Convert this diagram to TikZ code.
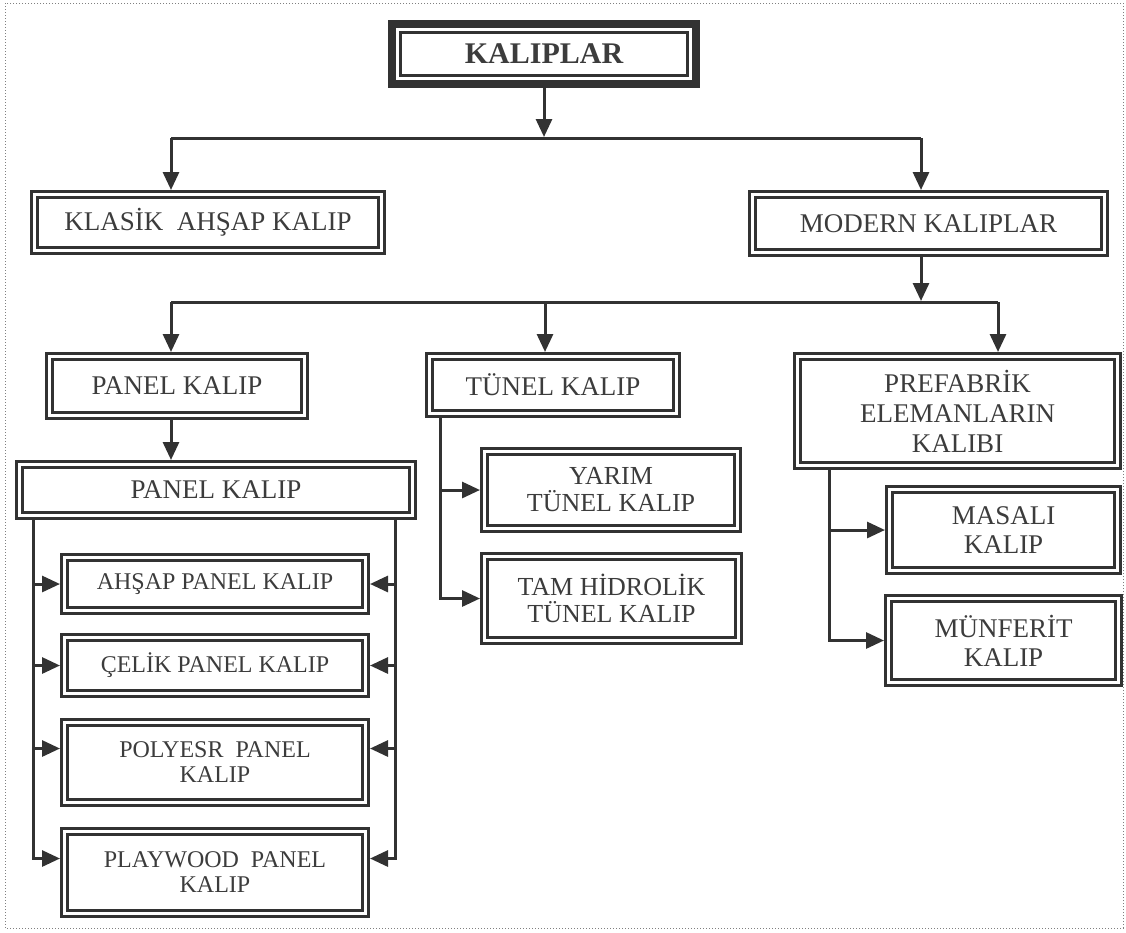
\documentclass[tikz,border=0pt]{standalone}
\usepackage{fontspec}
\setmainfont{Liberation Serif}
\usepackage{tikz}
\usetikzlibrary{arrows.meta,positioning,fit,calc}
\definecolor{kalipink}{RGB}{50,50,50}
\definecolor{kaliptext}{RGB}{60,60,60}

\begin{document}
\begin{tikzpicture}[
  x=1pt,y=-1pt,
  box/.style={rectangle,draw=kalipink,line width=3pt,double=white,double distance=3pt,outer sep=4.5pt,inner sep=2pt,align=center,text=kaliptext,font=\fontsize{27}{30}\selectfont},
  sbox/.style={box,font=\fontsize{24}{25}\selectfont},
  tbox/.style={box,font=\fontsize{26}{27}\selectfont},
  arr/.style={-{Triangle[length=18pt,width=16pt]},line width=3pt,draw=kalipink},
  ln/.style={line width=3pt,draw=kalipink}
]
\useasboundingbox (0,0) rectangle (1126,932);
\draw[dotted,gray,line width=1pt] (5,3) rectangle (1123,928);

% top
\node[draw=kalipink,line width=3pt,outer sep=1.5pt,minimum width=287pt,minimum height=43pt,inner sep=0pt,text=kaliptext,font=\bfseries\fontsize{30}{32}\selectfont] (topk) at (544,54) {KALIPLAR};
\node[fit=(topk),draw=kalipink,line width=8pt,inner sep=7pt,outer sep=4pt] (topframe) {};

% level 1
\node[box,minimum width=347pt,minimum height=56pt] (klasik) at (208,222.5) {KLASİK\ \ AHŞAP KALIP};
\node[box,minimum width=352pt,minimum height=58pt] (modern) at (928.5,223.5) {MODERN KALIPLAR};

% level 2
\node[box,minimum width=255pt,minimum height=59pt] (panel) at (177,386) {PANEL KALIP};
\node[box,minimum width=247pt,minimum height=57pt] (tunel) at (553,385) {TÜNEL KALIP};
\node[box,minimum width=320pt,minimum height=109pt] (prefab) at (957.5,411) {PREFABRİK\\ELEMANLARIN\\KALIBI};

% panel kalip branch
\node[box,minimum width=393pt,minimum height=51pt] (pk2) at (216,490) {PANEL KALIP};
\node[sbox,minimum width=301pt,minimum height=53pt] (ahsap) at (215,584) {AHŞAP PANEL KALIP};
\node[sbox,minimum width=301pt,minimum height=56pt] (celik) at (215,665.5) {ÇELİK PANEL KALIP};
\node[sbox,minimum width=301pt,minimum height=80pt] (poly) at (215,762.5) {POLYESR\ \ PANEL\\KALIP};
\node[sbox,minimum width=301pt,minimum height=82pt] (play) at (215,872.5) {PLAYWOOD\ \ PANEL\\KALIP};

% tunel branch
\node[tbox,minimum width=253pt,minimum height=77pt] (yarim) at (611,490) {YARIM\\TÜNEL KALIP};
\node[tbox,minimum width=254pt,minimum height=84pt] (tam) at (611.5,598.5) {TAM HİDROLİK\\TÜNEL KALIP};

% prefabrik branch
\node[box,font=\fontsize{27}{29}\selectfont,minimum width=228pt,minimum height=81pt] (masali) at (1003.5,530) {MASALI\\KALIP};
\node[box,font=\fontsize{27}{29}\selectfont,minimum width=230pt,minimum height=84pt] (munferit) at (1003.5,640.5) {MÜNFERİT\\KALIP};

% connectors
\coordinate (b1) at (544,137);
\coordinate (c1) at (171,138);
\coordinate (c2) at (921,138);
\coordinate (d1) at (171,302);
\coordinate (d2) at (545,302);
\coordinate (d3) at (998,302);

\draw[arr] (topframe.south) -- (b1);
\draw[ln] (c1) -- (c2);
\draw[arr] (c1) -- (c1 |- klasik.north);
\draw[arr] (c2) -- (c2 |- modern.north);

\draw[arr] (c2 |- modern.south) -- ($(c2 |- d1)+(0,-1)$);
\draw[ln] (d1) -- (d3);
\draw[arr] (d1) -- (d1 |- panel.north);
\draw[arr] (d2) -- (d2 |- tunel.north);
\draw[arr] (d3) -- (d3 |- prefab.north);

\draw[arr] (d1 |- panel.south) -- (d1 |- pk2.north);
\draw[arr] ([xshift=18pt]pk2.south west) |- (ahsap.west);
\draw[arr] ([xshift=18pt]pk2.south west) |- (celik.west);
\draw[arr] ([xshift=18pt]pk2.south west) |- ([yshift=14pt]poly.west);
\draw[arr] ([xshift=18pt]pk2.south west) |- ([yshift=14pt]play.west);
\draw[arr] ([xshift=-22pt]pk2.south east) |- (ahsap.east);
\draw[arr] ([xshift=-22pt]pk2.south east) |- (celik.east);
\draw[arr] ([xshift=-22pt]pk2.south east) |- ([yshift=14pt]poly.east);
\draw[arr] ([xshift=-22pt]pk2.south east) |- ([yshift=14pt]play.east);

\draw[arr] ([xshift=15pt]tunel.south west) |- (yarim.west);
\draw[arr] ([xshift=15pt]tunel.south west) |- (tam.west);

\draw[arr] ([xshift=36pt]prefab.south west) |- (masali.west);
\draw[arr] ([xshift=36pt]prefab.south west) |- (munferit.west);
\end{tikzpicture}
\end{document}
